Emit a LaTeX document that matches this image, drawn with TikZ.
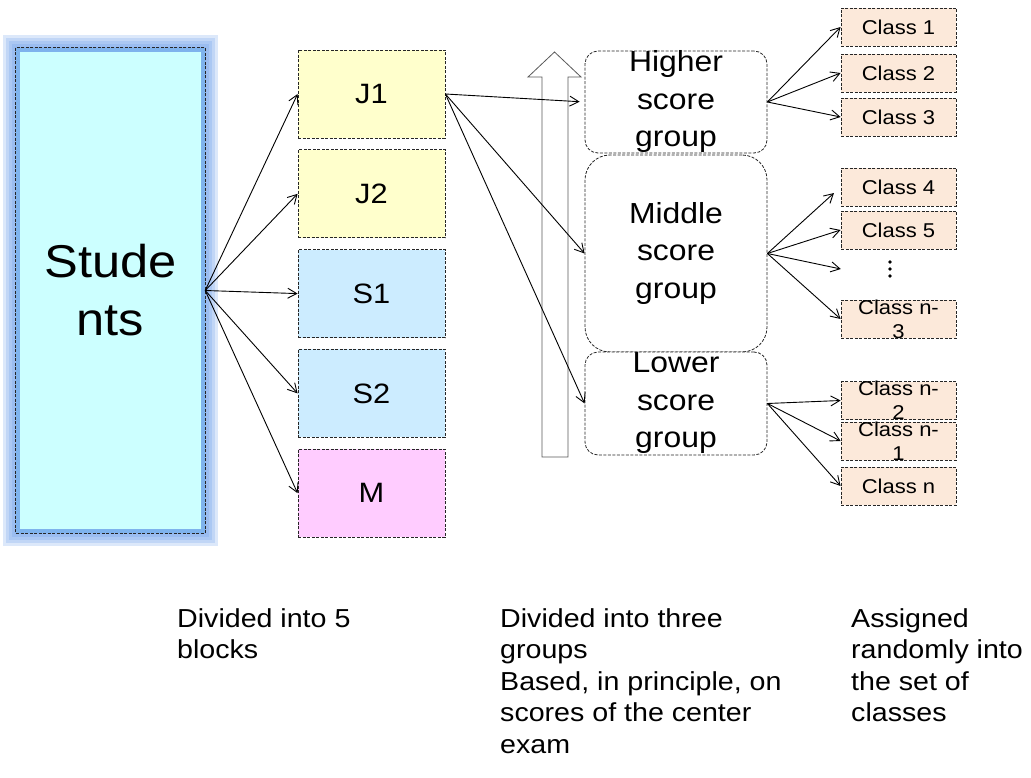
\documentclass[tikz,border=0pt]{standalone}
\usepackage{fontspec}
\setmainfont[FakeStretch=1.1]{Liberation Sans}
\usepackage{xcolor}
\usepackage{tikz}
\usetikzlibrary{arrows.meta,positioning}

\definecolor{studcyan}{RGB}{204,255,255}
\definecolor{juniorye}{RGB}{255,255,204}
\definecolor{seniorbl}{RGB}{204,236,255}
\definecolor{mixpink}{RGB}{255,204,255}
\definecolor{classpch}{RGB}{252,233,218}
\definecolor{glowblue}{RGB}{96,150,232}

\tikzset{
  dashbox/.style={draw=black!85, dash pattern=on 3pt off 1.5pt, line width=0.8pt, inner sep=0pt},
  blockbox/.style={dashbox, minimum width=147pt, minimum height=88pt, font=\fontsize{28}{34}\selectfont},
  groupbox/.style={dashbox, fill=white, minimum width=182pt},
  grouptext/.style={align=center, inner sep=0pt, font=\fontsize{29}{37.5}\selectfont},
  classbox/.style={dashbox, fill=classpch, minimum width=115pt, minimum height=38pt, font=\fontsize{20}{24}\selectfont},
  classtext/.style={align=center, inner sep=0pt, font=\fontsize{20}{24}\selectfont},
  notetext/.style={align=left, anchor=north west, inner sep=0pt, font=\fontsize{26}{31.5}\selectfont},
  glowline/.style={draw=glowblue, opacity=.22},
  conn/.style={draw=black, line width=0.9pt, -{Straight Barb[length=9pt,width=10pt]}}
}

\begin{document}
\begin{tikzpicture}[x=1pt, y=-1pt]
\useasboundingbox (0,0) rectangle (1031,778);

% students
\node[fill=studcyan, minimum width=189pt, minimum height=485pt, inner sep=0pt] (stud) at (110.5,290.5) {};
\draw[glowline, line width=17pt] ([shift={(-4.5,-4.5)}]stud.north west) rectangle ([shift={(4.5,4.5)}]stud.south east);
\draw[glowline, line width=14pt] ([shift={(-3,-3)}]stud.north west) rectangle ([shift={(3,3)}]stud.south east);
\draw[glowline, line width=11pt] ([shift={(-1.5,-1.5)}]stud.north west) rectangle ([shift={(1.5,1.5)}]stud.south east);
\draw[glowline, line width=8pt] (stud.north west) rectangle (stud.south east);
\draw[glowline, line width=5pt] ([shift={(1.5,1.5)}]stud.north west) rectangle ([shift={(-1.5,-1.5)}]stud.south east);
\draw[draw=black!85, dash pattern=on 3pt off 1.5pt, line width=0.8pt] (stud.north west) rectangle (stud.south east);
\node[align=center, inner sep=0pt, font=\fontsize{46}{58}\selectfont] (studtxt) at (stud) {Stude\\nts};

% blocks
\node[blockbox, fill=juniorye] (j1) at (371.5,94) {J1};
\node[blockbox, fill=juniorye, below=11pt of j1] (j2) {J2};
\node[blockbox, fill=seniorbl, below=11pt of j2] (s1) {S1};
\node[blockbox, fill=seniorbl, below=11pt of s1] (s2) {S2};
\node[blockbox, fill=mixpink, below=11pt of s2] (m) {M};

% score direction
\draw[draw=black!65, fill=white, line width=0.8pt]
  (542,457) -- (542,77) -- (528,77) -- (554.5,52) -- (581,77) -- (568,77) -- (568,457) -- cycle;

% groups
\node[groupbox, rounded corners=13pt, minimum height=102pt] (hi) at (676,102) {};
\node[grouptext] (hitxt) at (hi) {Higher\\score\\group};
\node[groupbox, rounded corners=25pt, minimum height=197pt] (mid) at (676,253.5) {};
\node[grouptext] (midtxt) at (mid) {Middle\\score\\group};
\node[groupbox, rounded corners=13pt, minimum height=103pt] (lo) at (676,403.5) {};
\node[grouptext] (lotxt) at (lo) {Lower\\score\\group};

% classes
\node[classbox] (c1) at (898.5,27) {Class 1};
\node[classbox] (c2) at (898.5,73) {Class 2};
\node[classbox] (c3) at (898.5,117) {Class 3};
\node[classbox] (c4) at (898.5,187) {Class 4};
\node[classbox] (c5) at (898.5,230) {Class 5};
\node[minimum width=98pt, minimum height=18pt, inner sep=0pt] (vdots) at (890,269) {};
\fill (vdots.center) ++(0,-7) circle (1.8pt) (vdots.center) circle (1.8pt) (vdots.center) ++(0,7) circle (1.8pt);
\node[classbox] (c6) at (898.5,319) {};
\node[classtext] (c6txt) at (c6) {Class n-\\3};
\node[classbox] (c7) at (898.5,400.5) {};
\node[classtext] (c7txt) at (c7) {Class n-\\2};
\node[classbox] (c8) at (898.5,441) {};
\node[classtext] (c8txt) at (c8) {Class n-\\1};
\node[classbox] (c9) at (898.5,486) {Class n};

% students -> blocks
\draw[conn] (stud.east) -- (j1.west);
\draw[conn] (stud.east) -- (j2.west);
\draw[conn] (stud.east) -- (s1.west);
\draw[conn] (stud.east) -- (s2.west);
\draw[conn] (stud.east) -- (m.west);

% block -> groups
\draw[conn, shorten >=5pt] (j1.east) -- (hi.west);
\draw[conn] (j1.east) -- (mid.west);
\draw[conn] (j1.east) -- (lo.west);

% groups -> classes
\draw[conn] (hi.east) -- (c1.west);
\draw[conn] (hi.east) -- (c2.west);
\draw[conn] (hi.east) -- (c3.west);
\draw[conn, shorten >=9pt] (mid.east) -- (c4.west);
\draw[conn] (mid.east) -- (c5.west);
\draw[conn] (mid.east) -- (vdots.west);
\draw[conn] (mid.east) -- (c6.west);
\draw[conn] (lo.east) -- (c7.west);
\draw[conn] (lo.east) -- (c8.west);
\draw[conn] (lo.east) -- (c9.west);

% notes
\node[notetext] (noteblk) at (177,608) {Divided into 5\\blocks};
\node[notetext] (notegrp) at (500,608) {Divided into three\\groups\\Based, in principle, on\\scores of the center\\exam};
\node[notetext] (notecls) at (851,608) {Assigned\\randomly into\\the set of\\classes};
\end{tikzpicture}
\end{document}
